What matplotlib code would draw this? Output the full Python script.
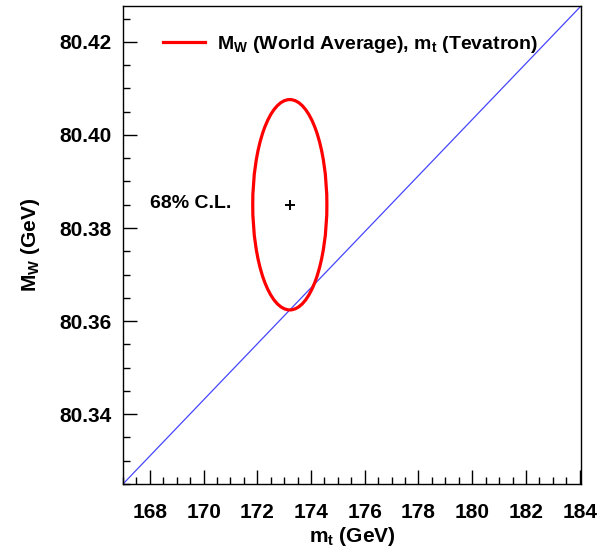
import matplotlib
matplotlib.use("Agg")
import matplotlib.pyplot as plt
from matplotlib.patches import Ellipse
from matplotlib.ticker import MultipleLocator, FixedLocator
import numpy as np

plt.rcParams['font.family'] = ['Liberation Sans', 'DejaVu Sans']
plt.rcParams['font.weight'] = 'bold'
plt.rcParams['mathtext.fontset'] = 'custom'
plt.rcParams['mathtext.rm'] = 'Liberation Sans:bold'
plt.rcParams['mathtext.it'] = 'Liberation Sans:bold'
plt.rcParams['mathtext.bf'] = 'Liberation Sans:bold'

# Data
x_range = [167.0, 184.05]
y_range = [80.325, 80.4277]
x_ticks = [168, 170, 172, 174, 176, 178, 180, 182, 184]
y_ticks = [80.34, 80.36, 80.38, 80.40, 80.42]
y_ticklabels = ["80.34", "80.36", "80.38", "80.40", "80.42"]

# SM line (blue), spanning the frame corner to corner
line_mt = [167.0, 184.05]
line_mw = [80.325, 80.4277]

# 68% C.L. ellipse
center_mt = 173.21
center_mw = 80.385
sigma_mt = 1.38
sigma_mw = 0.0226

fig = plt.figure(figsize=(6.11, 5.52), dpi=100)
ax = fig.add_axes([0.2013, 0.1232, 0.9509 - 0.2013, 0.9891 - 0.1232])

ax.plot(line_mt, line_mw, color='#4646ff', lw=0.9, zorder=2)

ell = Ellipse((center_mt, center_mw), 2 * sigma_mt, 2 * sigma_mw,
              fill=False, edgecolor='#ff0000', lw=2.3, zorder=3)
ax.add_patch(ell)
ax.plot([center_mt], [center_mw], marker='+', color='black', ms=7, mew=1.4, zorder=4)

# legend
ax.plot([], [], color='#ff0000', lw=2.3,
        label=r'M$_\mathregular{W}$ (World Average), m$_\mathregular{t}$ (Tevatron)')
leg = ax.legend(loc='center left', bbox_to_anchor=(40 / 458, 0.9205), frameon=False,
                borderaxespad=0, borderpad=0,
                handlelength=2.15, handletextpad=0.62,
                prop={'family': 'Liberation Sans', 'weight': 'bold', 'size': 14})

ax.text(168.0, 80.3853, '68% C.L.', ha='left', va='center', fontsize=14,
        fontweight='bold')

ax.set_xlim(*x_range)
ax.set_ylim(*y_range)
ax.xaxis.set_major_locator(FixedLocator(x_ticks))
ax.xaxis.set_minor_locator(MultipleLocator(0.5))
ax.yaxis.set_major_locator(FixedLocator(y_ticks))
ax.set_yticklabels(y_ticklabels)
ax.yaxis.set_minor_locator(MultipleLocator(0.005))
ax.tick_params(which='both', direction='in', top=False, right=False,
               labelsize=15, width=1.0)
ax.tick_params(axis='x', pad=14)
ax.tick_params(axis='y', pad=8)
ax.tick_params(which='major', length=10)
ax.tick_params(which='minor', length=5)
for lab in ax.get_xticklabels() + ax.get_yticklabels():
    lab.set_fontweight('bold')
for s in ax.spines.values():
    s.set_linewidth(1.0)

ax.set_xlabel(r'm$_\mathregular{t}$ (GeV)', fontsize=15, fontweight='bold', labelpad=2)
ax.set_ylabel(r'M$_\mathregular{W}$ (GeV)', fontsize=15, fontweight='bold', labelpad=13)

fig.savefig('out.png', dpi=100)
